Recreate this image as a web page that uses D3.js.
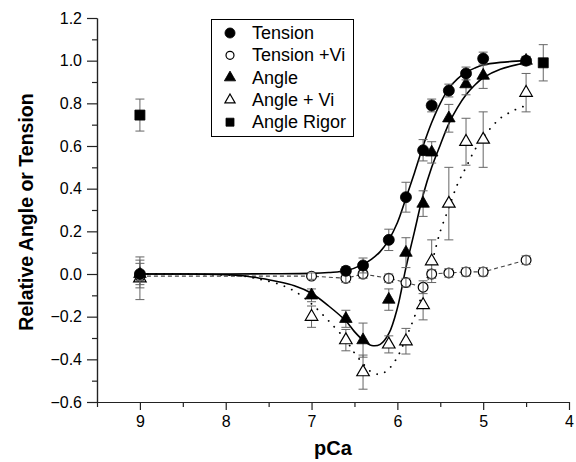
<!DOCTYPE html>
<html>
<head>
<meta charset="utf-8">
<script src="https://cdn.jsdelivr.net/npm/d3@7"></script>
<style>
  body { margin: 0; background: #fff; }
  svg text { font-family: "Liberation Sans", Arial, sans-serif; fill: #000; }
</style>
</head>
<body>
<svg id="chart" width="576" height="462"></svg>
<script>
// ---- data ----
const tensionPCa = [9, 6.6, 6.4, 6.1, 5.9, 5.7, 5.6, 5.4, 5.2, 5.0, 4.5];
const tensionVal = [0.0, 0.015, 0.04, 0.16, 0.36, 0.58, 0.79, 0.86, 0.94, 1.01, 1.0];
const tensionErr = [0.065, 0.02, 0.035, 0.05, 0.07, 0.05, 0.03, 0.03, 0.03, 0.03, 0.02];

const tensionViPCa = [9, 7.0, 6.6, 6.4, 6.1, 5.9, 5.7, 5.6, 5.4, 5.2, 5.0, 4.5];
const tensionViVal = [-0.01, -0.01, -0.02, 0.0, -0.02, -0.04, -0.062, 0.0, 0.005, 0.01, 0.01, 0.065];
const tensionViErr = [0.02, 0.015, 0.02, 0.02, 0.02, 0.02, 0.03, 0.02, 0.02, 0.02, 0.02, 0.02];

const anglePCa = [9, 7.0, 6.6, 6.4, 6.1, 5.9, 5.7, 5.6, 5.4, 5.2, 5.0, 4.5];
const angleVal = [0.0, -0.1, -0.21, -0.31, -0.12, 0.1, 0.33, 0.57, 0.73, 0.89, 0.93, 1.0];
const angleErr = [0.05, 0.03, 0.04, 0.08, 0.05, 0.07, 0.06, 0.05, 0.065, 0.05, 0.06, 0.02];

const angleViPCa = [9, 7.0, 6.6, 6.4, 6.1, 5.9, 5.7, 5.6, 5.4, 5.2, 5.0, 4.5];
const angleViVal = [-0.02, -0.2, -0.31, -0.46, -0.33, -0.315, -0.145, 0.06, 0.33, 0.62, 0.63, 0.85];
const angleViErr = [0.1, 0.05, 0.05, 0.08, 0.04, 0.06, 0.07, 0.1, 0.17, 0.11, 0.13, 0.09];

const rigorPCa = [9, 4.3];
const rigorVal = [0.745, 0.99];
const rigorErr = [0.075, 0.085];

// fitted curves
const tensionFitPCa = [9, 8, 7.5, 7, 6.8, 6.6, 6.4, 6.3, 6.2, 6.1, 6.0, 5.9, 5.8, 5.7, 5.6, 5.5, 5.4, 5.3, 5.2, 5.1, 5.0, 4.8, 4.5];
const tensionFitVal = [0, 0, 0.001, 0.003, 0.007, 0.015, 0.045, 0.07, 0.105, 0.16, 0.24, 0.355, 0.475, 0.6, 0.71, 0.8, 0.87, 0.915, 0.945, 0.965, 0.98, 0.992, 1.0];

const angleFitPCa = [9, 8.5, 8, 7.8, 7.6, 7.4, 7.2, 7.0, 6.8, 6.6, 6.5, 6.4, 6.3, 6.2, 6.1, 6.0, 5.9, 5.8, 5.7, 5.6, 5.5, 5.4, 5.3, 5.2, 5.1, 5.0, 4.8, 4.5];
const angleFitVal = [0, 0, -0.003, -0.008, -0.02, -0.035, -0.055, -0.09, -0.15, -0.22, -0.27, -0.31, -0.335, -0.33, -0.28, -0.16, 0.03, 0.2, 0.37, 0.5, 0.605, 0.705, 0.78, 0.84, 0.885, 0.92, 0.96, 0.99];

const angleViFitPCa = [9, 8.5, 8, 7.8, 7.6, 7.4, 7.2, 7.0, 6.8, 6.6, 6.5, 6.4, 6.3, 6.2, 6.1, 6.0, 5.9, 5.8, 5.7, 5.6, 5.5, 5.4, 5.3, 5.2, 5.1, 5.0, 4.9, 4.8, 4.7, 4.6, 4.5];
const angleViFitVal = [0, 0, -0.005, -0.01, -0.025, -0.045, -0.08, -0.14, -0.22, -0.31, -0.37, -0.42, -0.46, -0.47, -0.445, -0.39, -0.3, -0.2, -0.08, 0.05, 0.2, 0.31, 0.42, 0.5, 0.58, 0.64, 0.69, 0.73, 0.755, 0.775, 0.79];

const xTicks = [9, 8, 7, 6, 5, 4];
const xMinor = [9.5, 8.5, 7.5, 6.5, 5.5, 4.5];
const yTicks = [-0.6, -0.4, -0.2, 0.0, 0.2, 0.4, 0.6, 0.8, 1.0, 1.2];
const yMinor = [-0.5, -0.3, -0.1, 0.1, 0.3, 0.5, 0.7, 0.9, 1.1];

const legendLabels = ["Tension", "Tension +Vi", "Angle", "Angle + Vi", "Angle Rigor"];

// ---- layout ----
const svg = d3.select('#chart');
const x = d3.scaleLinear().domain([9.5, 4]).range([97, 569]);
const y = d3.scaleLinear().domain([-0.6, 1.2]).range([402, 18]);

const zip = (px, vals, errs) => px.map((p, i) => ({ p: p, v: vals[i], e: errs ? errs[i] : 0 }));

//axes
svg.append('g').attr('transform', 'translate(97,0)')
  .call(d3.axisLeft(y).tickValues(yMinor).tickSize(5).tickSizeOuter(0).tickFormat(''));
svg.append('g').attr('transform', 'translate(97,0)')
  .call(d3.axisLeft(y).tickValues(yTicks).tickSize(10).tickSizeOuter(0).tickPadding(5).tickFormat(d3.format('.1f')));
svg.append('g').attr('transform', 'translate(0,402)')
  .call(d3.axisBottom(x).tickValues(xMinor).tickSize(5).tickSizeOuter(0).tickFormat(''));
svg.append('g').attr('transform', 'translate(0,402)')
  .call(d3.axisBottom(x).tickValues(xTicks).tickSize(8).tickSizeOuter(0).tickPadding(6).tickFormat(d3.format('d')));

svg.selectAll('.domain').attr('stroke', '#222').attr('stroke-width', 1.2);
svg.selectAll('.tick line').attr('stroke', '#222').attr('stroke-width', 1.2);
svg.selectAll('.tick text').attr('font-size', 16).attr('font-family', '"Liberation Sans", Arial, sans-serif');

svg.append('text').attr('x', 333).attr('y', 455).attr('text-anchor', 'middle')
  .attr('font-size', 20).attr('font-weight', 'bold').text('pCa');
svg.append('text').attr('transform', 'translate(33,212) rotate(-90)').attr('text-anchor', 'middle')
  .attr('font-size', 19.5).attr('font-weight', 'bold').text('Relative Angle or Tension');

// ---- lines ----
const line = d3.line().x(d => x(d.p)).y(d => y(d.v));
const smooth = d3.line().x(d => x(d.p)).y(d => y(d.v)).curve(d3.curveCatmullRom.alpha(0.5));

svg.append('path').datum(zip(tensionViPCa, tensionViVal))
  .attr('d', line).attr('fill', 'none').attr('stroke', '#444').attr('stroke-width', 1.1)
  .attr('stroke-dasharray', '4,3');
svg.append('path').datum(zip(angleViFitPCa, angleViFitVal))
  .attr('d', smooth).attr('fill', 'none').attr('stroke', '#000').attr('stroke-width', 1.8)
  .attr('stroke-linecap', 'round').attr('stroke-dasharray', '0.1,8');
svg.append('path').datum(zip(tensionFitPCa, tensionFitVal))
  .attr('d', smooth).attr('fill', 'none').attr('stroke', '#000').attr('stroke-width', 1.6);
svg.append('path').datum(zip(angleFitPCa, angleFitVal))
  .attr('d', smooth).attr('fill', 'none').attr('stroke', '#000').attr('stroke-width', 1.6);

// ---- error bars + markers ----
function errorBars(data) {
  const g = svg.append('g').attr('stroke', '#666').attr('stroke-width', 1);
  data.forEach(d => {
    const cx = x(d.p), y0 = y(d.v + d.e), y1 = y(d.v - d.e);
    g.append('line').attr('x1', cx).attr('x2', cx).attr('y1', y0).attr('y2', y1);
    g.append('line').attr('x1', cx - 4.5).attr('x2', cx + 4.5).attr('y1', y0).attr('y2', y0);
    g.append('line').attr('x1', cx - 4.5).attr('x2', cx + 4.5).attr('y1', y1).attr('y2', y1);
  });
}

function markers(data, type, filled, size) {
  svg.append('g').selectAll('path').data(data).join('path')
    .attr('transform', d => `translate(${x(d.p)},${y(d.v)})`)
    .attr('d', d3.symbol().type(type).size(size))
    .attr('fill', filled ? '#000' : '#fff')
    .attr('stroke', '#000').attr('stroke-width', filled ? 0.8 : 1.2);
}

const angleVi = zip(angleViPCa, angleViVal, angleViErr);
const tensionVi = zip(tensionViPCa, tensionViVal, tensionViErr);
const angle = zip(anglePCa, angleVal, angleErr);
const tension = zip(tensionPCa, tensionVal, tensionErr);
const rigor = zip(rigorPCa, rigorVal, rigorErr);

errorBars(angleVi);
markers(angleVi, d3.symbolTriangle, false, 68);
errorBars(angle);
markers(angle, d3.symbolTriangle, true, 68);
markers(tensionVi, d3.symbolCircle, false, 75);
errorBars(tensionVi);
errorBars(tension);
markers(tension, d3.symbolCircle, true, 95);
errorBars(rigor);
markers(rigor, d3.symbolSquare, true, 100);

// ---- legend ----
const legend = svg.append('g');
legend.append('rect').attr('x', 211.5).attr('y', 19.5).attr('width', 142).attr('height', 117)
  .attr('fill', '#fff').attr('stroke', '#000').attr('stroke-width', 1);
const legendSym = [
  { type: d3.symbolCircle, filled: true, size: 80 },
  { type: d3.symbolCircle, filled: false, size: 50 },
  { type: d3.symbolTriangle, filled: true, size: 55 },
  { type: d3.symbolTriangle, filled: false, size: 45 },
  { type: d3.symbolSquare, filled: true, size: 64 }
];
legendLabels.forEach((lab, i) => {
  const ly = 33 + i * 22.3;
  const s = legendSym[i];
  legend.append('path').attr('transform', `translate(230,${ly})`)
    .attr('d', d3.symbol().type(s.type).size(s.size)())
    .attr('fill', s.filled ? '#000' : '#fff').attr('stroke', '#000').attr('stroke-width', s.filled ? 0.8 : 1.2);
  legend.append('text').attr('x', 252).attr('y', ly + 6).attr('font-size', 18).text(lab);
});
</script>
</body>
</html>
